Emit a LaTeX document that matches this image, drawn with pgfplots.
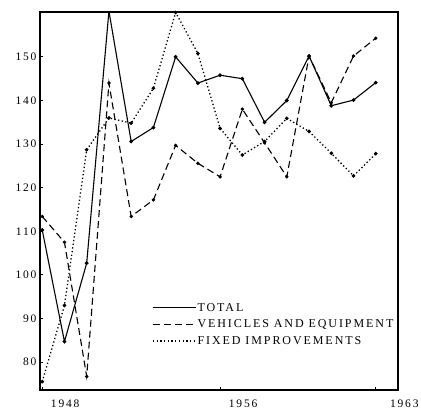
\documentclass[border=0pt]{standalone}
\usepackage{fontspec}
\setmainfont{Liberation Serif}[LetterSpace=16]
\newfontfamily\tickfont{Liberation Serif}[LetterSpace=16]
\usepackage{pgfplots}
\pgfplotsset{compat=1.18}
\begin{document}
\begin{tikzpicture}
\path[use as bounding box] (-40pt,-29pt) rectangle (381pt,390pt);
\begin{axis}[
  at={(0pt,0pt)}, anchor=south west,
  scale only axis, width=358pt, height=378pt,
  xmin=1947.9, xmax=1964, ymin=73.6, ymax=160.3,
  axis line style={line width=1.3pt},
  tick pos=left, tick align=inside, major tick length=3pt,
  tick style={line width=1pt, black},
  xtick={1948,1956,1963}, xticklabels={1948,1956,\hspace*{11pt}1963},
  ytick={80,90,...,150},
  /pgf/number format/assume math mode=true,
  xticklabel style={font=\tickfont\fontsize{11.5}{14}\selectfont, xshift=23pt, yshift=-6pt},
  yticklabel style={font=\tickfont\fontsize{11.5}{14}\selectfont},
  legend style={at={(0.313,0.233)}, anchor=north west, draw=none, fill=none,
    font=\fontsize{12}{14}\selectfont, row sep=5.2pt, inner sep=0pt, nodes={inner sep=1pt}},
  legend cell align=left,
  legend image code/.code={\draw[#1] (0pt,0pt) -- (43pt,0pt);},
]
\addplot[black, line width=1.1pt, mark=*, mark size=1.3pt] coordinates {
(1948,110.3)(1949,84.7)(1950,102.7)(1951,160.5)(1952,130.6)(1953,133.8)(1954,150)(1955,144)(1956,145.8)(1957,145)(1958,135)(1959,140)(1960,150.2)(1961,138.8)(1962,140.1)(1963,144.1)};
\addlegendentry{TOTAL}
\addplot[black, line width=1.1pt, dash pattern=on 7pt off 4pt, mark=*, mark size=1.1pt, mark options={solid}] coordinates {
(1948,113.4)(1949,107.5)(1950,76.7)(1951,144)(1952,113.4)(1953,117.2)(1954,129.7)(1955,125.6)(1956,122.5)(1957,138)(1958,130.3)(1959,122.5)(1960,150.2)(1961,139.5)(1962,150.2)(1963,154.3)};
\addlegendentry{VEHICLES AND EQUIPMENT}
\addplot[black, line width=1.3pt, dash pattern=on 1.3pt off 2.4pt, mark=*, mark size=1.1pt, mark options={solid}] coordinates {
(1948,75.5)(1949,93)(1950,128.7)(1951,136)(1952,134.8)(1953,142.8)(1954,160.2)(1955,150.8)(1956,133.6)(1957,127.5)(1958,130.6)(1959,135.9)(1960,132.9)(1961,127.9)(1962,122.7)(1963,127.8)};
\addlegendentry{FIXED IMPROVEMENTS}
\end{axis}
\end{tikzpicture}
\end{document}
